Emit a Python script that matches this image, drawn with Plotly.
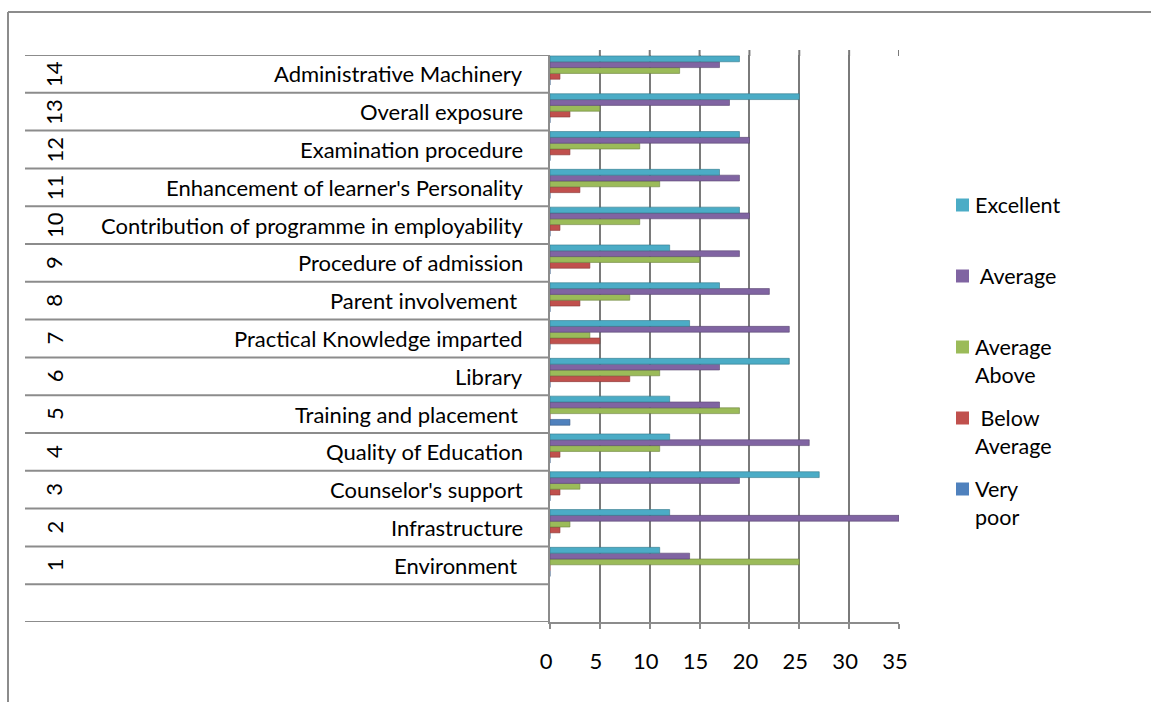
import numpy as np
import plotly.graph_objects as go

W, H = 1151, 702
FONT = "Lato"
FS = 22
FS_LEGEND = 21.5

# Survey aspects (bottom to top) with their serial numbers
aspects = [
    "Environment ", "Infrastructure", "Counselor's support", "Quality of Education",
    "Training and placement ", "Library", "Practical Knowledge imparted",
    "Parent involvement ", "Procedure of admission",
    "Contribution of programme in employability",
    "Enhancement of learner's Personality", "Examination procedure",
    "Overall exposure", "Administrative Machinery",
]
serial_no = list(range(1, 15))

# Number of responses per rating
very_poor     = [0, 0, 0, 0, 2, 0, 0, 0, 0, 0, 0, 0, 0, 0]
below_average = [0, 1, 1, 1, 0, 8, 5, 3, 4, 1, 3, 2, 2, 1]
average_above = [25, 2, 3, 11, 19, 11, 4, 8, 15, 9, 11, 9, 5, 13]
average       = [14, 35, 19, 26, 17, 17, 24, 22, 19, 20, 19, 20, 18, 17]
excellent     = [11, 12, 27, 12, 12, 24, 14, 17, 12, 19, 17, 19, 25, 19]

x_ticks = [0, 5, 10, 15, 20, 25, 30, 35]

series = [
    ("Very poor", very_poor, "#4F81BD"),
    ("Below Average", below_average, "#C0504D"),
    ("Average Above", average_above, "#9BBB59"),
    ("Average", average, "#8064A2"),
    ("Excellent", excellent, "#4BACC6"),
]

# legend rows: (series colour, text lines)
legend_rows = [
    ("#4BACC6", ["Excellent"]),
    ("#8064A2", ["\u00a0Average"]),
    ("#9BBB59", ["Average", "Above"]),
    ("#C0504D", ["\u00a0Below", "Average"]),
    ("#4F81BD", ["Very", "poor"]),
]


def px(x):
    return x / W


def py(y):
    return 1 - y / H


def nbsp(s):
    stripped = s.rstrip(" ")
    return stripped + "\u00a0" * (len(s) - len(stripped))


def darker(hex_color, f=0.7):
    h = hex_color.lstrip("#")
    r, g, b = (int(h[i:i + 2], 16) for i in (0, 2, 4))
    return "rgb(%d,%d,%d)" % (r * f, g * f, b * f)


# row positions: category k sits in band [k-0.5, k+0.5]; row 0 stays empty
rows = np.arange(1, len(aspects) + 1)
cluster_y = rows + 0.09

fig = go.Figure()
for name, vals, col in series:
    fig.add_trace(go.Bar(
        y=cluster_y, x=vals, orientation="h", name=name,
        marker=dict(color=col, line=dict(color=darker(col), width=0.6)),
        showlegend=False,
    ))

shapes = []
# table rules of the category axis
for b in np.arange(-0.5, len(aspects) + 1):
    shapes.append(dict(type="line", xref="paper", yref="y",
                       x0=px(25), x1=px(550), y0=b, y1=b,
                       line=dict(color="#8c8c8c", width=2)))
# back-wall gridlines rise a little above the top row
for t in x_ticks[1:]:
    shapes.append(dict(type="line", xref="x", yref="paper",
                       x0=t, x1=t, y0=py(56), y1=py(50),
                       line=dict(color="#7a7a7a", width=2)))
# chart area border
shapes.append(dict(type="line", xref="paper", yref="paper",
                   x0=px(8), x1=1.02, y0=py(12), y1=py(12),
                   line=dict(color="#8c8c8c", width=2)))
shapes.append(dict(type="line", xref="paper", yref="paper",
                   x0=px(8), x1=px(8), y0=py(12), y1=-0.02,
                   line=dict(color="#8c8c8c", width=2)))

annotations = []
for k, (num, label) in enumerate(zip(serial_no, aspects), start=1):
    annotations.append(dict(x=px(525), y=k, xref="paper", yref="y",
                            text=nbsp(label), showarrow=False, xanchor="right",
                            font=dict(family=FONT, size=FS, color="#000")))
    annotations.append(dict(x=px(54), y=k, xref="paper", yref="y",
                            text=str(num), showarrow=False, textangle=-90,
                            xanchor="center", yanchor="middle",
                            font=dict(family=FONT, size=FS, color="#000")))

# legend
sq = 13
y0 = 205
for i, (col, lines) in enumerate(legend_rows):
    yc = y0 + i * 71
    shapes.append(dict(type="rect", xref="paper", yref="paper",
                       x0=px(956), x1=px(956 + sq), y0=py(yc - sq / 2), y1=py(yc + sq / 2),
                       fillcolor=col, line=dict(width=0)))
    for j, line in enumerate(lines):
        annotations.append(dict(x=px(973), y=py(yc + j * 28), xref="paper", yref="paper",
                                text=line, showarrow=False, xanchor="left", yanchor="middle",
                                font=dict(family=FONT, size=FS_LEGEND, color="#000")))

fig.update_layout(
    width=W, height=H,
    margin=dict(l=0, r=0, t=0, b=0, pad=0, autoexpand=False),
    paper_bgcolor="white", plot_bgcolor="white",
    barmode="group", bargap=0.23, bargroupgap=0,
    font=dict(family=FONT, size=FS, color="#000"),
    shapes=shapes, annotations=annotations,
    showlegend=False,
    xaxis=dict(domain=[px(550), px(899)], range=[0, 35], tickvals=x_ticks,
               showgrid=True, gridcolor="#7a7a7a", gridwidth=2, zeroline=False,
               showline=True, linecolor="#8c8c8c", linewidth=2,
               ticks="outside", ticklen=5, tickcolor="#8c8c8c", tickwidth=2,
               automargin=False, ticklabelshift=-4,
               ticklabelstandoff=14, tickfont=dict(family=FONT, size=FS, color="#000")),
    yaxis=dict(domain=[py(622), py(55)], range=[-0.5, 14.5], automargin=False,
               showticklabels=False, showgrid=False, zeroline=False,
               showline=True, linecolor="#8c8c8c", linewidth=2, ticks=""),
)

fig.write_html(
    "out.html",
    post_script="document.body.style.margin='0';document.body.style.overflow='hidden';",
)
